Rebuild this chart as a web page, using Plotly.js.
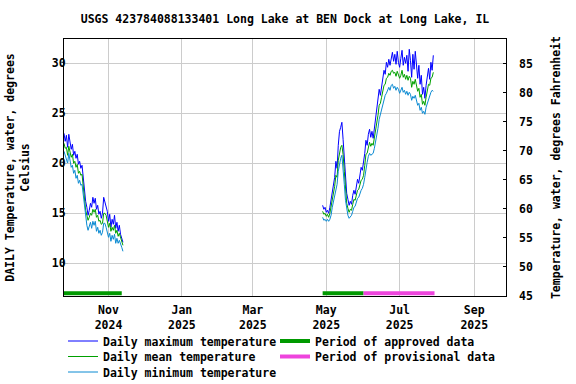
<!DOCTYPE html>
<html>
<head>
<meta charset="utf-8">
<script src="https://cdn.plot.ly/plotly-3.0.1.min.js"></script>
<style>html,body{margin:0;padding:0;background:#fff;}#chart{width:576px;height:384px;}</style>
</head>
<body>
<div id="chart"></div>
<script>
// ---- Data ----
const seg1Start = '2024-09-25';
const seg2Start = '2025-04-28';

const maxTemp1 = [23.0, 22.2, 22.8, 21.6, 22.9, 22.0, 21.4, 21.9,
  20.8, 21.2, 20.5, 20.9,
  19.9, 20.2, 19.5, 19.8, 18.6,
  17.0, 16.2, 15.6, 14.8,
  15.3, 16.0, 15.6, 16.6, 16.0, 16.5, 15.4, 15.8, 14.9, 15.2, 14.5, 15.0, 16.6, 16.2, 15.8,
  15.2, 14.2, 14.9, 13.6, 14.4, 13.9, 14.8, 13.5, 14.1, 13.2, 13.8, 12.9, 12.4, 12.1];
const meanTemp1 = [22.0, 21.5, 21.6, 20.8, 21.7, 21.0, 20.6, 20.9,
  20.0, 20.2, 19.6, 19.9,
  19.0, 19.2, 18.8, 18.9, 17.6,
  16.2, 15.3, 14.8, 14.3,
  14.6, 15.0, 14.8, 15.4, 15.1, 15.4, 14.6, 14.8, 14.2, 14.3, 13.9, 14.0, 15.0, 15.0, 14.8,
  14.3, 13.6, 14.0, 13.2, 13.6, 13.3, 13.8, 13.0, 13.3, 12.7, 13.0, 12.5, 12.0, 11.8];
const minTemp1 = [21.2, 20.8, 20.5, 20.0, 21.0, 20.2, 19.6, 19.8,
  19.0, 19.3, 18.5, 18.8,
  18.0, 18.3, 17.8, 17.9, 16.9,
  15.4, 14.4, 13.8, 13.3,
  13.7, 14.1, 13.5, 14.2, 13.8, 14.2, 13.2, 13.6, 13.0, 13.3, 12.8, 13.1, 14.0, 14.0, 13.6,
  13.2, 12.6, 13.0, 12.2, 12.8, 12.4, 12.9, 12.0, 12.5, 12.0, 12.3, 11.8, 11.6, 11.2];

const maxTemp2 = [15.8, 15.4, 15.6, 15.1, 15.3,
  15.0, 15.6, 16.3, 17.2, 17.9,
  18.6, 20.2, 19.5, 21.8, 23.2, 23.6,
  24.1,
  22.4, 20.5, 18.3, 17.0, 16.4, 15.8, 16.2, 15.9,
  16.8, 17.3, 16.9, 17.9, 18.4, 18.0, 19.1, 19.6, 19.3, 20.0,
  21.0, 22.3, 21.8, 22.9, 23.4, 22.6, 23.2, 22.5,
  23.6, 24.3, 25.6, 26.5, 27.4, 26.8, 27.6, 28.4,
  29.3, 28.9, 30.1, 29.6, 30.4, 29.8, 30.7,
  31.1, 30.2, 30.9, 29.9, 31.2, 30.1, 29.6, 30.5, 31.3, 29.8, 30.6, 30.0, 30.8,
  29.2, 31.4, 30.3, 28.6, 30.9, 29.4, 31.2, 29.7,
  28.5, 29.8, 27.9, 28.8, 26.9, 27.6, 26.5, 27.8,
  28.6, 29.5, 28.4, 30.1, 29.3, 30.8];
const meanTemp2 = [15.2, 14.9, 15.0, 14.7, 14.9,
  14.6, 15.0, 15.6, 16.4, 17.0,
  17.7, 18.8, 18.6, 20.3, 21.2, 21.6,
  21.8,
  20.9, 19.2, 17.2, 16.0, 15.5, 15.1, 15.4, 15.3,
  15.9, 16.4, 16.3, 17.0, 17.3, 17.4, 18.0, 18.3, 18.4, 18.8,
  19.8, 20.9, 21.0, 21.6, 22.1, 21.7, 22.0, 21.8,
  22.5, 23.2, 23.9, 24.8, 25.8, 26.0, 26.6, 27.3,
  27.8, 27.9, 28.5, 28.6, 29.0, 28.8, 29.2,
  29.3, 29.0, 29.1, 28.7, 29.2, 28.9, 28.5, 28.8, 29.3, 28.6, 28.9, 28.4, 28.8,
  28.3, 28.7, 28.5, 27.6, 28.2, 27.9, 28.4, 27.7,
  27.2, 27.5, 26.6, 26.9, 25.9, 26.2, 25.8, 26.6,
  27.2, 27.9, 27.8, 28.5, 28.6, 29.1];
const minTemp2 = [14.6, 14.3, 14.4, 14.2, 14.4,
  14.2, 14.4, 14.8, 15.6, 16.2,
  16.8, 17.6, 17.9, 19.2, 20.1, 20.5,
  20.8,
  19.6, 17.9, 16.3, 15.3, 14.8, 14.5, 14.7, 14.8,
  15.2, 15.6, 15.7, 16.2, 16.5, 16.6, 17.0, 17.3, 17.5, 17.9,
  18.6, 19.6, 20.1, 20.7, 21.0, 20.8, 20.9, 21.0,
  21.5, 22.1, 22.7, 23.5, 24.4, 24.9, 25.3, 25.9,
  26.4, 26.8, 27.0, 27.4, 27.6, 27.3, 27.8,
  27.9, 27.5, 27.7, 27.3, 27.6, 27.4, 27.0, 27.3, 27.6, 27.1, 27.3, 26.9, 27.2,
  26.8, 27.1, 26.9, 26.3, 26.7, 26.5, 26.8, 26.2,
  25.8, 26.0, 25.3, 25.6, 25.0, 25.2, 24.9, 25.6,
  26.0, 26.4, 26.6, 27.1, 27.3, 27.2];

const approvedPeriods = [['2024-09-25', '2024-11-12'], ['2025-04-28', '2025-06-01']];
const provisionalPeriods = [['2025-06-01', '2025-07-30']];

const xTickVals = ['2024-11-01', '2025-01-01', '2025-03-01', '2025-05-01', '2025-07-01', '2025-09-01'];
const xTickText = ['Nov<br>2024', 'Jan<br>2025', 'Mar<br>2025', 'May<br>2025', 'Jul<br>2025', 'Sep<br>2025'];
const cTicks = [10, 15, 20, 25, 30];
const fTicks = [45, 50, 55, 60, 65, 70, 75, 80, 85];

// ---- helpers ----
function dayDates(start, n) {
  const out = [];
  const t0 = Date.parse(start + 'T00:00:00Z');
  for (let i = 0; i < n; i++) {
    out.push(new Date(t0 + i * 86400000).toISOString().slice(0, 10));
  }
  return out;
}
const d1 = dayDates(seg1Start, maxTemp1.length);
const d2 = dayDates(seg2Start, maxTemp2.length);

const FONT = {family: 'DejaVu Sans Mono, monospace', size: 11.5, color: '#000', weight: 'bold'};
const BAR_Y = 7.0;
const COLORS = {max: '#0000ff', mean: '#00a000', min: '#0a8ad2', appr: '#009900', prov: '#ee44dd'};

function lineTrace(x, y, name, color, lg, show) {
  return {x: x, y: y, type: 'scatter', mode: 'lines', name: name,
    line: {color: color, width: 1}, legend: lg, legendgroup: lg, showlegend: show, hoverinfo: 'skip'};
}
function barTrace(p, name, color, lg, show) {
  return {x: p, y: [BAR_Y, BAR_Y], type: 'scatter', mode: 'lines', name: name,
    line: {color: color, width: 4}, legend: lg, legendgroup: lg, showlegend: show, hoverinfo: 'skip'};
}

const traces = [
  lineTrace(d1, maxTemp1, 'Daily maximum temperature', COLORS.max, 'legend', true),
  lineTrace(d2, maxTemp2, 'Daily maximum temperature', COLORS.max, 'legend', false),
  lineTrace(d1, meanTemp1, 'Daily mean temperature', COLORS.mean, 'legend2', true),
  lineTrace(d2, meanTemp2, 'Daily mean temperature', COLORS.mean, 'legend2', false),
  lineTrace(d1, minTemp1, 'Daily minimum temperature', COLORS.min, 'legend3', true),
  lineTrace(d2, minTemp2, 'Daily minimum temperature', COLORS.min, 'legend3', false),
  barTrace(approvedPeriods[0], 'Period of approved data', COLORS.appr, 'legend4', true),
  barTrace(approvedPeriods[1], 'Period of approved data', COLORS.appr, 'legend4', false),
  barTrace(provisionalPeriods[0], 'Period of provisional data', COLORS.prov, 'legend5', true),
  // invisible trace to activate the right-hand (Fahrenheit) axis
  {x: [d1[0]], y: [null], yaxis: 'y2', type: 'scatter', mode: 'lines', showlegend: false, hoverinfo: 'skip'}
];

// plot area in pixels: x 64..506, y 39..296
function legendAt(px, py) {
  return {x: (px - 64) / 442, y: (296 - py) / 257, xref: 'paper', yref: 'paper',
    xanchor: 'left', yanchor: 'middle', orientation: 'v', font: FONT,
    bgcolor: 'rgba(0,0,0,0)', borderwidth: 0, itemwidth: 30};
}

const layout = {
  width: 576, height: 384,
  margin: {l: 64, r: 70, t: 39, b: 88, pad: 0, autoexpand: false},
  paper_bgcolor: '#fff', plot_bgcolor: '#fff',
  font: FONT,
  title: {text: 'USGS 423784088133401 Long Lake at BEN Dock at Long Lake, IL',
    font: FONT, x: 0.5, xref: 'paper', xanchor: 'center', y: 1 - 19 / 384, yref: 'container', yanchor: 'middle'},
  xaxis: {type: 'date', range: ['2024-09-25', '2025-09-27 10:00'], automargin: false,
    tickmode: 'array', tickvals: xTickVals, ticktext: xTickText, ticklabelstandoff: 3,
    showgrid: true, gridcolor: '#cccccc', gridwidth: 1,
    showline: true, linecolor: '#000', linewidth: 1, mirror: true,
    ticks: '', tickfont: FONT, zeroline: false},
  yaxis: {range: [6.73, 32.43], tickmode: 'array', tickvals: cTicks, automargin: false,
    ticklabelstandoff: -5,
    showgrid: true, gridcolor: '#cccccc', gridwidth: 1,
    showline: true, linecolor: '#000', linewidth: 1, mirror: true,
    ticks: 'inside', ticklen: 4, tickcolor: '#bbbbbb', tickfont: FONT, zeroline: false,
    title: {text: 'DAILY Temperature, water, degrees<br>Celsius', font: FONT, standoff: 19}},
  yaxis2: {range: [44.95, 89.3], overlaying: 'y', side: 'right', tickmode: 'array', tickvals: fTicks,
    automargin: false, showgrid: false, showline: false, ticks: 'inside', ticklen: 3, tickcolor: '#000',
    ticklabelstandoff: 12,
    tickfont: FONT, zeroline: false,
    title: {text: 'Temperature, water, degrees Fahrenheit', font: FONT, standoff: 20}},
  showlegend: true,
  legend: legendAt(63, 341),
  legend2: legendAt(63, 356.5),
  legend3: legendAt(63, 372),
  legend4: legendAt(275, 341),
  legend5: legendAt(275, 356.5)
};

Plotly.newPlot('chart', traces, layout, {staticPlot: true, displayModeBar: false});
</script>
</body>
</html>
